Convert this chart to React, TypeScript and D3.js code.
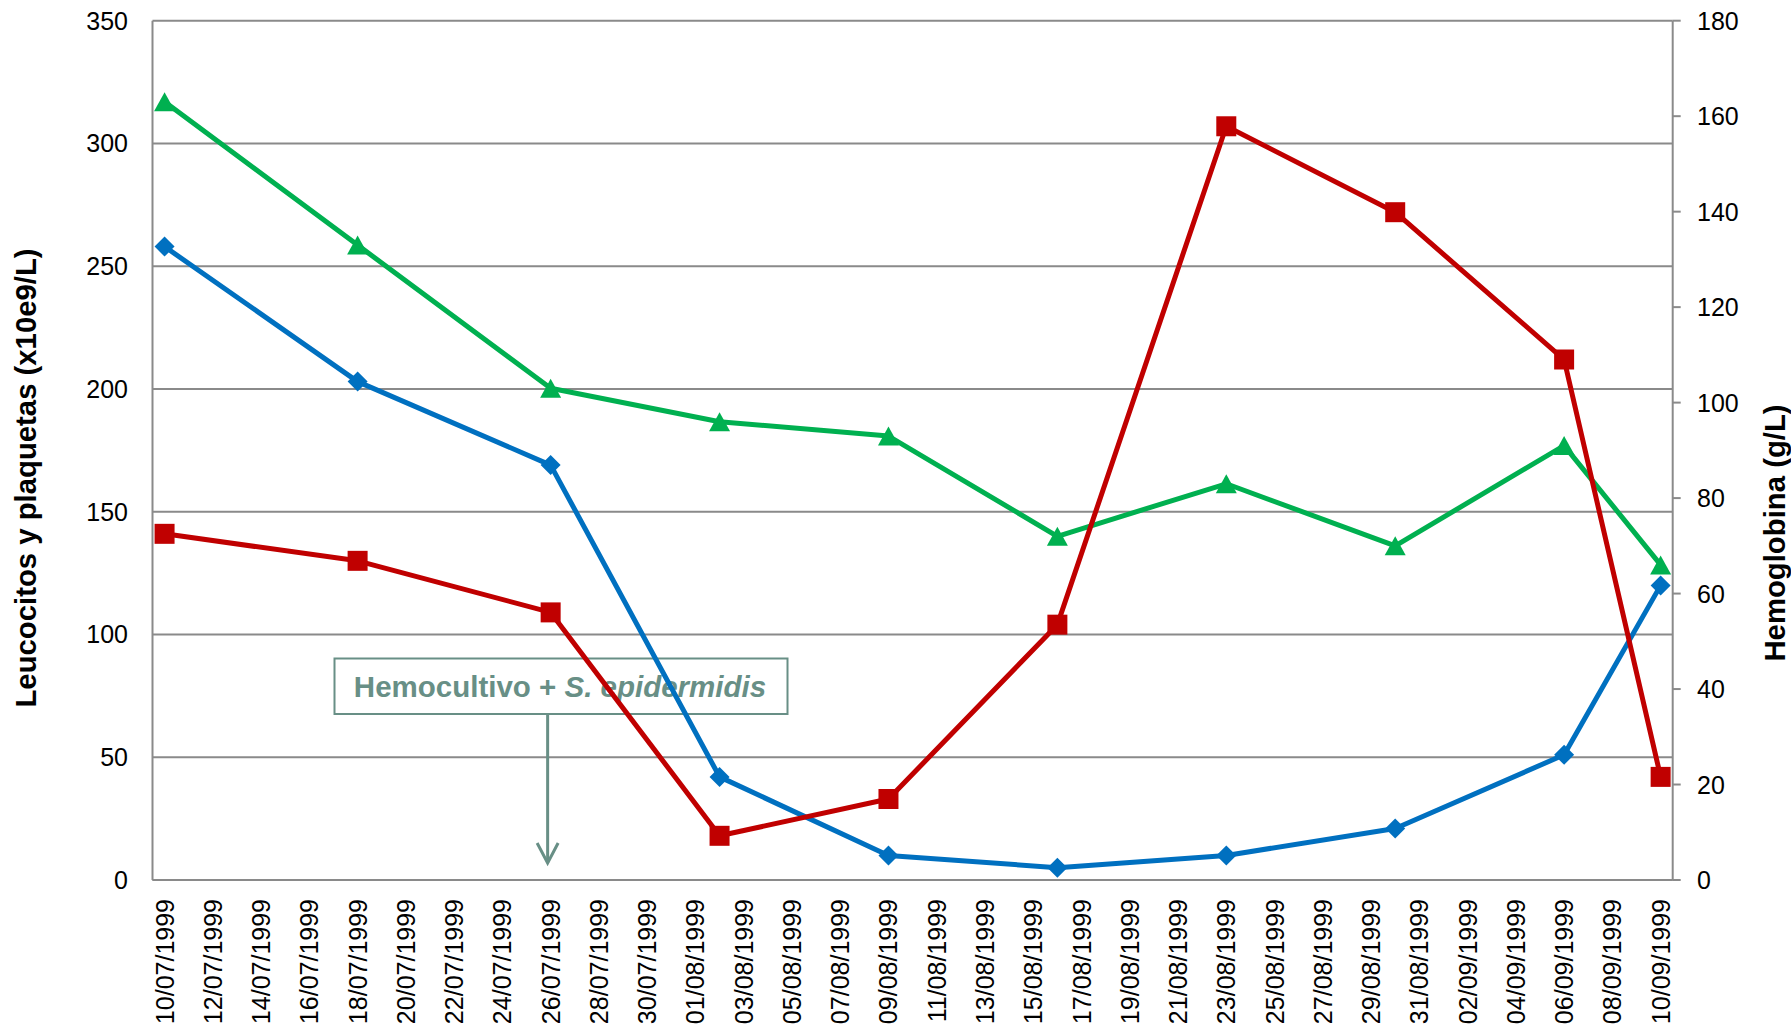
import React from "react";
import * as d3 from "d3";

// Sampling dates (dd/mm/yyyy of each blood test)
const fechas = [
  "1999-07-10", "1999-07-18", "1999-07-26", "1999-08-02", "1999-08-09",
  "1999-08-16", "1999-08-23", "1999-08-30", "1999-09-06", "1999-09-10",
];
// Left axis (x10e9/L)
const leucocitos = [258, 203, 169, 42, 10, 5, 10, 21, 51, 120];
const plaquetas = [141, 130, 109, 18, 33, 104, 307, 272, 212, 42];
// Right axis (g/L)
const hemoglobina = [163, 133, 103, 96, 93, 72, 83, 70, 91, 66];

const ticksIzq = [0, 50, 100, 150, 200, 250, 300, 350];
const ticksDer = [0, 20, 40, 60, 80, 100, 120, 140, 160, 180];

const tituloIzq = "Leucocitos y plaquetas (x10e9/L)";
const tituloDer = "Hemoglobina (g/L)";
const notaTexto = "Hemocultivo + ";
const notaItalica = "S. epidermidis";
const notaFecha = "1999-07-26T09:00:00Z";

const W = 1791;
const H = 1033;
const L = 152.5;
const R = 1672.7;
const T = 20.7;
const B = 880;

const FONT = "'Liberation Sans', Arial, sans-serif";
const GRID = "#8a8a8a";
const NOTE = "#688f86";

const parseDia = (s: string) => new Date(s + "T00:00:00Z");
const mediodia = (s: string) => new Date(s + "T12:00:00Z");

export default function App() {
  const x = d3
    .scaleUtc()
    .domain([parseDia("1999-07-10"), parseDia("1999-09-11")])
    .range([L, R]);
  const yL = d3.scaleLinear().domain([0, 350]).range([B, T]);
  const yR = d3.scaleLinear().domain([0, 180]).range([B, T]);

  const diasEtiqueta = d3.utcDay.range(parseDia("1999-07-10"), parseDia("1999-09-11"), 2);
  const fmt = d3.utcFormat("%d/%m/%Y");
  const slot = (x(parseDia("1999-07-11")) as number) - (x(parseDia("1999-07-10")) as number);

  const line = d3
    .line<[number, number]>()
    .x((d) => d[0])
    .y((d) => d[1]);

  const ptsLeu: [number, number][] = fechas.map((f, i) => [x(mediodia(f)), yL(leucocitos[i])]);
  const ptsPla: [number, number][] = fechas.map((f, i) => [x(mediodia(f)), yL(plaquetas[i])]);
  const ptsHem: [number, number][] = fechas.map((f, i) => [x(mediodia(f)), yR(hemoglobina[i])]);

  const square = (cx: number, cy: number, s: number) =>
    `M${cx - s / 2},${cy - s / 2}h${s}v${s}h${-s}Z`;
  const diamond = (cx: number, cy: number, r: number) =>
    `M${cx},${cy - r}L${cx + r},${cy}L${cx},${cy + r}L${cx - r},${cy}Z`;
  const triangle = (cx: number, cy: number, w: number, h: number) =>
    `M${cx},${cy - h / 2}L${cx + w / 2},${cy + h / 2}L${cx - w / 2},${cy + h / 2}Z`;

  const xNota = x(new Date(notaFecha)) as number;
  const boxX0 = 334.5;
  const boxX1 = 787.5;
  const boxY0 = 658.5;
  const boxY1 = 714;
  const tipY = 863;

  return (
    <div style={{ position: "fixed", left: 0, top: 0, width: W, height: H, background: "#fff" }}>
      <svg width={W} height={H} style={{ display: "block" }} fontFamily={FONT}>
        <rect x={0} y={0} width={W} height={H} fill="#fff" />

        {/* horizontal gridlines on the left scale */}
        {ticksIzq.map((t) => (
          <line key={"g" + t} x1={L} x2={R} y1={yL(t)} y2={yL(t)} stroke={GRID} strokeWidth={2} />
        ))}
        {/* axis lines */}
        <line x1={L} x2={L} y1={T} y2={B} stroke={GRID} strokeWidth={2} />
        <line x1={R} x2={R} y1={T} y2={B} stroke={GRID} strokeWidth={2} />
        <line x1={L} x2={R} y1={B} y2={B} stroke={GRID} strokeWidth={2} />
        {/* right axis tick marks */}
        {ticksDer.map((t) => (
          <line key={"rt" + t} x1={R} x2={R + 8} y1={yR(t)} y2={yR(t)} stroke={GRID} strokeWidth={2} />
        ))}

        {/* left tick labels */}
        {ticksIzq.map((t) => (
          <text key={"l" + t} x={128} y={yL(t)} dy="0.36em" textAnchor="end" fontSize={25} fill="#000">
            {t}
          </text>
        ))}
        {/* right tick labels */}
        {ticksDer.map((t) => (
          <text key={"r" + t} x={1697} y={yR(t)} dy="0.36em" textAnchor="start" fontSize={25} fill="#000">
            {t}
          </text>
        ))}
        {/* date labels */}
        {diasEtiqueta.map((d) => {
          const cx = (x(d) as number) + slot / 2;
          return (
            <text
              key={"d" + d.getTime()}
              transform={`translate(${cx},899) rotate(-90)`}
              dy="0.36em"
              textAnchor="end"
              fontSize={25}
              fill="#000"
            >
              {fmt(d)}
            </text>
          );
        })}

        {/* axis titles */}
        <text
          transform={`translate(25,478) rotate(-90)`}
          dy="0.36em"
          textAnchor="middle"
          fontSize={29.3}
          fontWeight="bold"
          fill="#000"
        >
          {tituloIzq}
        </text>
        <text
          transform={`translate(1774,533) rotate(-90)`}
          dy="0.36em"
          textAnchor="middle"
          fontSize={29.3}
          fontWeight="bold"
          fill="#000"
        >
          {tituloDer}
        </text>

        {/* annotation */}
        <rect
          x={boxX0}
          y={boxY0}
          width={boxX1 - boxX0}
          height={boxY1 - boxY0}
          fill="none"
          stroke={NOTE}
          strokeWidth={2}
        />
        <text x={(boxX0 + boxX1) / 2 - 1} y={697} textAnchor="middle" fontSize={29.5} fontWeight="bold" fill={NOTE}>
          {notaTexto}
          <tspan fontStyle="italic">{notaItalica}</tspan>
        </text>
        <line x1={xNota} x2={xNota} y1={boxY1} y2={tipY} stroke={NOTE} strokeWidth={3} />
        <path
          d={`M${xNota - 10.5},${tipY - 20}L${xNota},${tipY}L${xNota + 10.5},${tipY - 20}`}
          fill="none"
          stroke={NOTE}
          strokeWidth={3}
        />

        {/* series */}
        <path d={line(ptsLeu) || ""} fill="none" stroke="#0070c0" strokeWidth={5} strokeLinejoin="round" />
        {ptsLeu.map((p, i) => (
          <path key={"lm" + i} d={diamond(p[0], p[1], 10)} fill="#0070c0" />
        ))}
        <path d={line(ptsHem) || ""} fill="none" stroke="#00b050" strokeWidth={5} strokeLinejoin="round" />
        {ptsHem.map((p, i) => (
          <path key={"hm" + i} d={triangle(p[0], p[1], 21, 19)} fill="#00b050" />
        ))}
        <path d={line(ptsPla) || ""} fill="none" stroke="#c00000" strokeWidth={5} strokeLinejoin="round" />
        {ptsPla.map((p, i) => (
          <path key={"pm" + i} d={square(p[0], p[1], 20)} fill="#c00000" />
        ))}
      </svg>
    </div>
  );
}
